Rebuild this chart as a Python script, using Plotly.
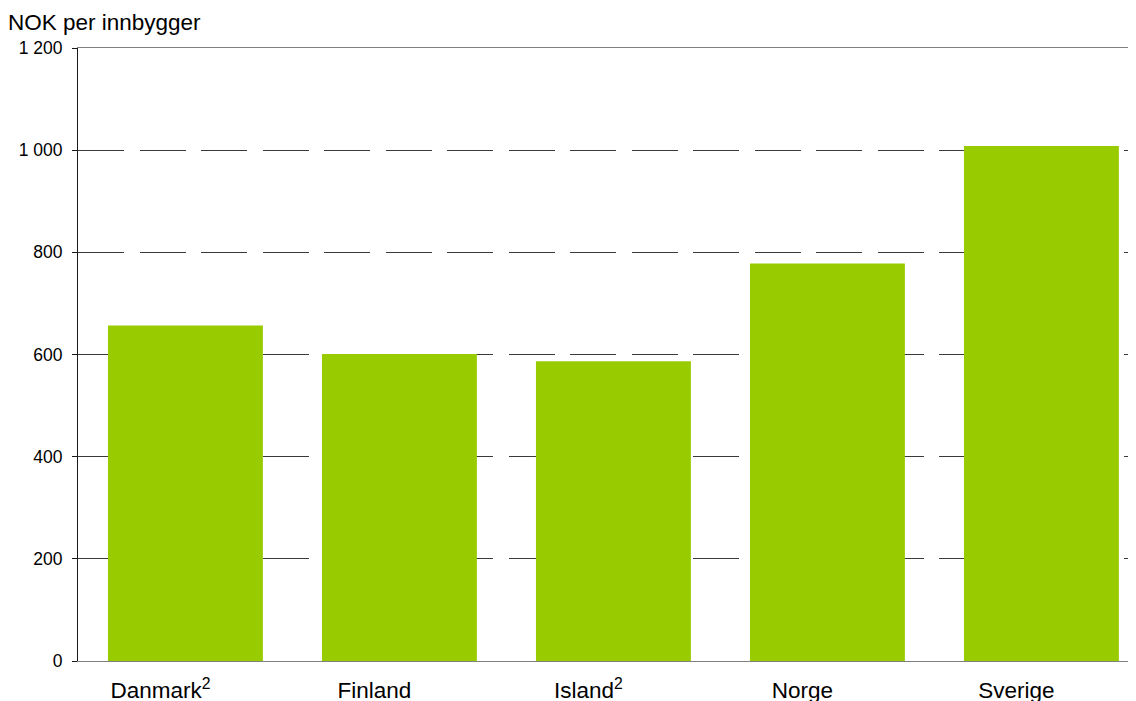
import plotly.graph_objects as go

countries = ["Danmark<sup>2</sup>", "Finland", "Island<sup>2</sup>", "Norge", "Sverige"]
nok_per_capita = [657, 601, 587, 778, 1008]
y_ticks = [0, 200, 400, 600, 800, 1000, 1200]
y_tick_labels = ["0", "200", "400", "600", "800", "1 000", "1 200"]

FONT = "Liberation Sans, Arial, sans-serif"

# the page body has an 8px margin, so the figure is 8px smaller and margins shifted
fig = go.Figure()
fig.add_trace(go.Bar(
    x=list(range(len(countries))),
    y=nok_per_capita,
    width=0.724,
    marker=dict(color="#99CC00", line_width=0),
    hoverinfo="y",
))

fig.update_layout(
    width=1128,
    height=693,
    margin=dict(l=70, r=0, t=40, b=40),
    paper_bgcolor="white",
    plot_bgcolor="white",
    showlegend=False,
    font=dict(family=FONT, color="#000000"),
    title=dict(
        text="NOK per innbygger",
        xref="container", yref="container",
        x=0, xanchor="left",
        y=1 - 14 / 693, yanchor="middle",
        font=dict(size=22.5, family=FONT, color="#000000"),
    ),
)

fig.update_xaxes(
    tickmode="array",
    tickvals=list(range(len(countries))),
    ticktext=countries,
    range=[-0.502, 4.442],
    automargin=False,
    showgrid=False,
    showline=True,
    linecolor="#808080",
    linewidth=1,
    mirror=True,
    ticks="",
    ticklabelstandoff=9,
    ticklabelshift=-25,
    tickfont=dict(size=22.5, family=FONT, color="#000000"),
)

fig.update_yaxes(
    range=[0, 1200],
    tickmode="array",
    tickvals=y_ticks,
    ticktext=y_tick_labels,
    automargin=False,
    showgrid=True,
    gridcolor="#3a3a3a",
    gridwidth=1,
    griddash="46px,15.5px",
    zeroline=False,
    showline=True,
    linecolor="#1a1a1a",
    linewidth=1,
    ticks="outside",
    ticklen=5,
    tickcolor="#1a1a1a",
    ticklabelstandoff=6,
    tickfont=dict(size=17.5, family=FONT, color="#000000"),
)

fig.write_html("out.html")
